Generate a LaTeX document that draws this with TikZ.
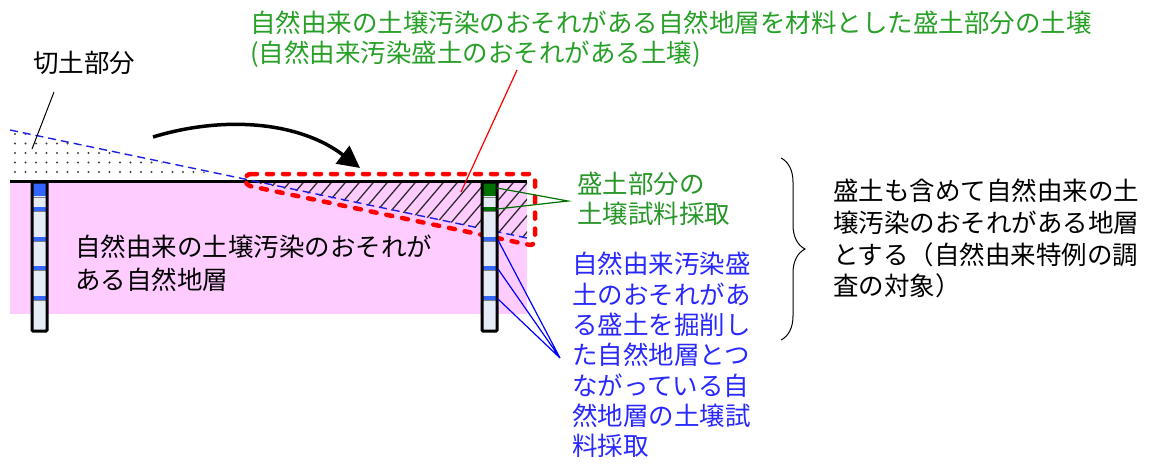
\documentclass[tikz,border=0pt]{standalone}
\usepackage{fontspec}
\newfontfamily\jp{Noto Sans CJK JP}
\usetikzlibrary{arrows.meta,decorations.pathreplacing}
\definecolor{titlegreen}{RGB}{40,160,40}
\definecolor{labgreen}{RGB}{40,150,40}
\definecolor{bluetxt}{RGB}{40,40,255}
\definecolor{pinkfill}{RGB}{255,204,255}
\definecolor{capgreen}{RGB}{0,112,0}
\definecolor{capblue}{RGB}{51,102,255}
\definecolor{borefill}{RGB}{230,236,246}
\definecolor{dashblue}{RGB}{30,30,230}
\newcommand{\mybore}[3]{%
  \fill[borefill] (#1,182) rectangle ++(15,149);
  \fill[#2] (#1,182) rectangle ++(15,14);
  \draw[gray, line width=1pt] (#1,197) -- ++(15,0);
  \fill[#3] (#1,207) rectangle ++(15,3.5);
  \draw[gray, line width=1pt] (#1,211) -- ++(15,0);
  \foreach \sy in {237,266,296}{
    \fill[capblue] (#1,\sy) rectangle ++(15,3.5);
    \draw[gray, line width=1pt] (#1,\sy+4) -- ++(15,0);
  }
  \draw[black, line width=3pt, rounded corners=1pt] (#1,182) rectangle ++(15,149);
}
\begin{document}
\begin{tikzpicture}[x=1pt,y=-1pt,
  txt/.style={font=\jp\fontsize{25.5}{30}\selectfont, inner sep=0pt, anchor=north west, align=left},
  leader/.style={line width=1.2pt},
  hatchline/.style={gray!35!black, line width=1.3pt},
  reddash/.style={red, line width=4.5pt, dash pattern=on 6pt off 10pt, line cap=round, rounded corners=6pt},
  bluedash/.style={dashblue, line width=1.4pt, dash pattern=on 8pt off 5pt}]
\useasboundingbox (0,0) rectangle (1150,464);
% pink natural stratum
\fill[pinkfill] (10,182) rectangle (527,314);
% hatched fill (embankment)
\begin{scope}
  \clip (247,181) -- (527,181) -- (527,238) -- cycle;
  \foreach \i in {0,...,26} \draw[hatchline] (180+\i*14,245) -- ++(58,-68);
\end{scope}
% dotted cut part
\begin{scope}
  \clip (10,130) -- (247,181) -- (10,181) -- cycle;
  \foreach \cx in {0,...,22} \foreach \cy in {0,...,5}
    \fill[black!75] (15+\cx*10.5,134+\cy*9.5) circle (1.05pt);
\end{scope}
% ground line
\draw[black, line width=2.5pt] (10,181.5) -- (527,181.5);
% original ground surface
\draw[bluedash] (10,130) -- (527,238);
% red dashed enclosure
\draw[reddash] (245,174) -- (535,174) -- (535,246) -- (245,185) -- cycle;
% borings
\mybore{32}{capblue}{capblue}
\mybore{482}{capgreen}{capgreen}
% texts
\node[txt] (cut) at (33,51) {切土部分};
\node[txt, text=titlegreen] (title) at (250,11) {自然由来の土壌汚染のおそれがある自然地層を材料とした盛土部分の土壌\\(自然由来汚染盛土のおそれがある土壌)};
\node[txt, font=\jp\fontsize{25.5}{33}\selectfont] (strat) at (75,235) {自然由来の土壌汚染のおそれが\\ある自然地層};
\node[txt, text=labgreen] (glab) at (577,172) {盛土部分の\\土壌試料採取};
\node[txt, text=bluetxt, font=\jp\fontsize{25.5}{30.3}\selectfont] (blab) at (572,252) {自然由来汚染盛\\土のおそれがあ\\る盛土を掘削し\\た自然地層とつ\\ながっている自\\然地層の土壌試\\料採取};
\node[txt, font=\jp\fontsize{25.5}{31.7}\selectfont] (rtxt) at (833,179) {盛土も含めて自然由来の土\\壌汚染のおそれがある地層\\とする（自然由来特例の調\\査の対象）};
% leader lines
\coordinate (cutA) at (54,92);
\coordinate (cutB) at (32,149);
\draw[leader, black, line width=1pt] (cutA) -- (cutB);
\coordinate (rtop) at (517,70);
\coordinate (rend) at (461,192);
\draw[red, line width=1.2pt] (rtop) -- (rend);
\coordinate (gjoin) at (568,201);
\coordinate (g1) at (497,188);
\coordinate (g2) at (497,209);
\draw[leader, capgreen] (g1) -- (gjoin) -- (g2);
\coordinate (bjoin) at (560,358);
\coordinate (b1) at (498,240);
\coordinate (b2) at (498,269);
\coordinate (b3) at (498,299);
\draw[leader, blue] (b1) -- (bjoin) (b2) -- (bjoin) (b3) -- (bjoin);
% move arrow
\coordinate (arrS) at (153,137);
\coordinate (arrE) at (360,168);
\draw[black, line width=3.5pt, -{Triangle[length=22pt,width=22pt]}] (arrS) .. controls (225,115) and (300,122) .. (arrE);
% brace
\coordinate (brT) at (781,158);
\coordinate (brB) at (781,340);
\draw[black, line width=1pt, decorate, decoration={brace, amplitude=24pt}] (brT) -- (brB);
\end{tikzpicture}
\end{document}
